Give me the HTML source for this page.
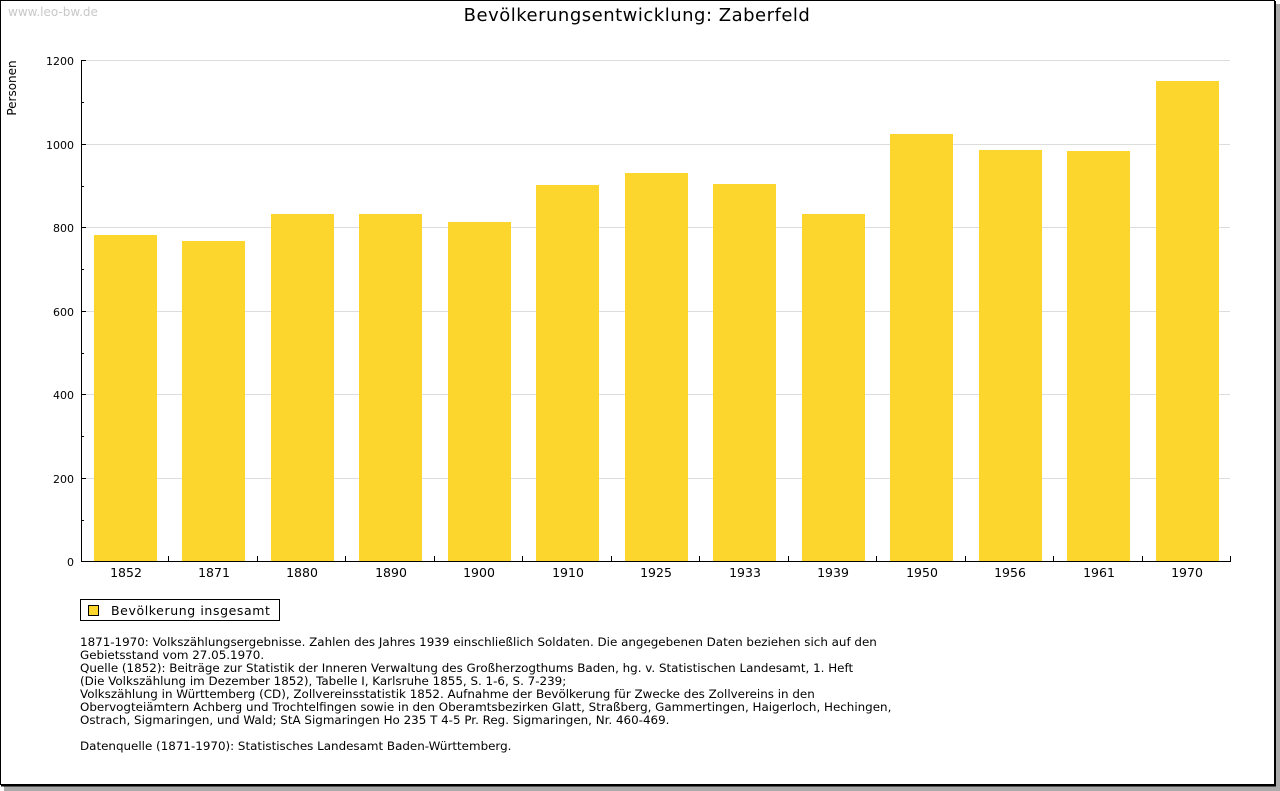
<!DOCTYPE html>
<html><head><meta charset="utf-8"><style>
body{margin:0;background:#fff;width:1280px;height:791px;overflow:hidden}
svg{display:block;font-family:Verdana,"DejaVu Sans",sans-serif}
</style></head><body>
<svg width="1280" height="791" xmlns="http://www.w3.org/2000/svg">
<rect x="4" y="4" width="1276" height="787" fill="#aaa"/>
<rect x="0.5" y="0.5" width="1274" height="784" fill="#fff" stroke="#000" stroke-width="1"/>
<line x1="1275" y1="1" x2="1275" y2="786" stroke="#000" stroke-width="2"/>
<line x1="1" y1="785.5" x2="1276" y2="785.5" stroke="#000" stroke-width="2"/>
<text x="8" y="16" font-size="12" fill="#c8c8c8">www.leo-bw.de</text>
<text x="637" y="21" font-size="18" text-anchor="middle" fill="#000" letter-spacing="0.5">Bevölkerungsentwicklung: Zaberfeld</text>
<text transform="translate(16,88) rotate(-90)" font-size="12" text-anchor="middle">Personen</text>
<g stroke="#ddd" stroke-width="1">
<line x1="82" y1="60.5" x2="1230" y2="60.5"/><line x1="82" y1="144.5" x2="1230" y2="144.5"/><line x1="82" y1="227.5" x2="1230" y2="227.5"/><line x1="82" y1="311.5" x2="1230" y2="311.5"/><line x1="82" y1="394.5" x2="1230" y2="394.5"/><line x1="82" y1="478.5" x2="1230" y2="478.5"/>
</g>
<g fill="#fcd62d">
<rect x="94" y="235" width="63" height="326"/>
<rect x="182" y="241" width="63" height="320"/>
<rect x="271" y="214" width="63" height="347"/>
<rect x="359" y="214" width="63" height="347"/>
<rect x="448" y="222" width="63" height="339"/>
<rect x="536" y="185" width="63" height="376"/>
<rect x="625" y="173" width="63" height="388"/>
<rect x="713" y="184" width="63" height="377"/>
<rect x="802" y="214" width="63" height="347"/>
<rect x="890" y="134" width="63" height="427"/>
<rect x="979" y="150" width="63" height="411"/>
<rect x="1067" y="151" width="63" height="410"/>
<rect x="1156" y="81" width="63" height="480"/>
</g>
<g stroke="#000" stroke-width="1">
<line x1="81.5" y1="60" x2="81.5" y2="562"/>
<line x1="81" y1="561.5" x2="1231" y2="561.5"/>
<line x1="81" y1="60.5" x2="86" y2="60.5"/><line x1="81" y1="102.5" x2="84" y2="102.5"/>
<line x1="81" y1="144.5" x2="86" y2="144.5"/><line x1="81" y1="186.5" x2="84" y2="186.5"/>
<line x1="81" y1="227.5" x2="86" y2="227.5"/><line x1="81" y1="269.5" x2="84" y2="269.5"/>
<line x1="81" y1="311.5" x2="86" y2="311.5"/><line x1="81" y1="353.5" x2="84" y2="353.5"/>
<line x1="81" y1="394.5" x2="86" y2="394.5"/><line x1="81" y1="436.5" x2="84" y2="436.5"/>
<line x1="81" y1="478.5" x2="86" y2="478.5"/><line x1="81" y1="520.5" x2="84" y2="520.5"/>
<line x1="168.5" y1="556" x2="168.5" y2="561"/><line x1="257.5" y1="556" x2="257.5" y2="561"/><line x1="345.5" y1="556" x2="345.5" y2="561"/><line x1="434.5" y1="556" x2="434.5" y2="561"/><line x1="522.5" y1="556" x2="522.5" y2="561"/><line x1="611.5" y1="556" x2="611.5" y2="561"/><line x1="699.5" y1="556" x2="699.5" y2="561"/><line x1="788.5" y1="556" x2="788.5" y2="561"/><line x1="876.5" y1="556" x2="876.5" y2="561"/><line x1="965.5" y1="556" x2="965.5" y2="561"/><line x1="1053.5" y1="556" x2="1053.5" y2="561"/><line x1="1142.5" y1="556" x2="1142.5" y2="561"/><line x1="1230.5" y1="556" x2="1230.5" y2="561"/>
</g>
<g font-size="11" text-anchor="end">
<text x="74" y="65">1200</text><text x="74" y="149">1000</text><text x="74" y="232">800</text><text x="74" y="316">600</text><text x="74" y="399">400</text><text x="74" y="483">200</text><text x="74" y="566">0</text>
</g>
<g font-size="12.5" text-anchor="middle">
<text x="126" y="577">1852</text><text x="214" y="577">1871</text><text x="302" y="577">1880</text><text x="391" y="577">1890</text><text x="479" y="577">1900</text><text x="568" y="577">1910</text><text x="656" y="577">1925</text><text x="745" y="577">1933</text><text x="833" y="577">1939</text><text x="922" y="577">1950</text><text x="1010" y="577">1956</text><text x="1099" y="577">1961</text><text x="1187" y="577">1970</text>
</g>
<rect x="80.5" y="599.5" width="199" height="21" fill="#fff" stroke="#000"/>
<rect x="88.5" y="605.5" width="10" height="10" fill="#fcd62d" stroke="#000"/>
<text x="111" y="615" font-size="12.5" letter-spacing="0.6">Bevölkerung insgesamt</text>
<g font-size="11.9" fill="#000">
<text x="80" y="646">1871-1970: Volkszählungsergebnisse. Zahlen des Jahres 1939 einschließlich Soldaten. Die angegebenen Daten beziehen sich auf den</text>
<text x="80" y="659">Gebietsstand vom 27.05.1970.</text>
<text x="80" y="672">Quelle (1852): Beiträge zur Statistik der Inneren Verwaltung des Großherzogthums Baden, hg. v. Statistischen Landesamt, 1. Heft</text>
<text x="80" y="685">(Die Volkszählung im Dezember 1852), Tabelle I, Karlsruhe 1855, S. 1-6, S. 7-239;</text>
<text x="80" y="698">Volkszählung in Württemberg (CD), Zollvereinsstatistik 1852. Aufnahme der Bevölkerung für Zwecke des Zollvereins in den</text>
<text x="80" y="711">Obervogteiämtern Achberg und Trochtelfingen sowie in den Oberamtsbezirken Glatt, Straßberg, Gammertingen, Haigerloch, Hechingen,</text>
<text x="80" y="724">Ostrach, Sigmaringen, und Wald; StA Sigmaringen Ho 235 T 4-5 Pr. Reg. Sigmaringen, Nr. 460-469.</text>
<text x="80" y="750">Datenquelle (1871-1970): Statistisches Landesamt Baden-Württemberg.</text>
</g>
</svg>
</body></html>
